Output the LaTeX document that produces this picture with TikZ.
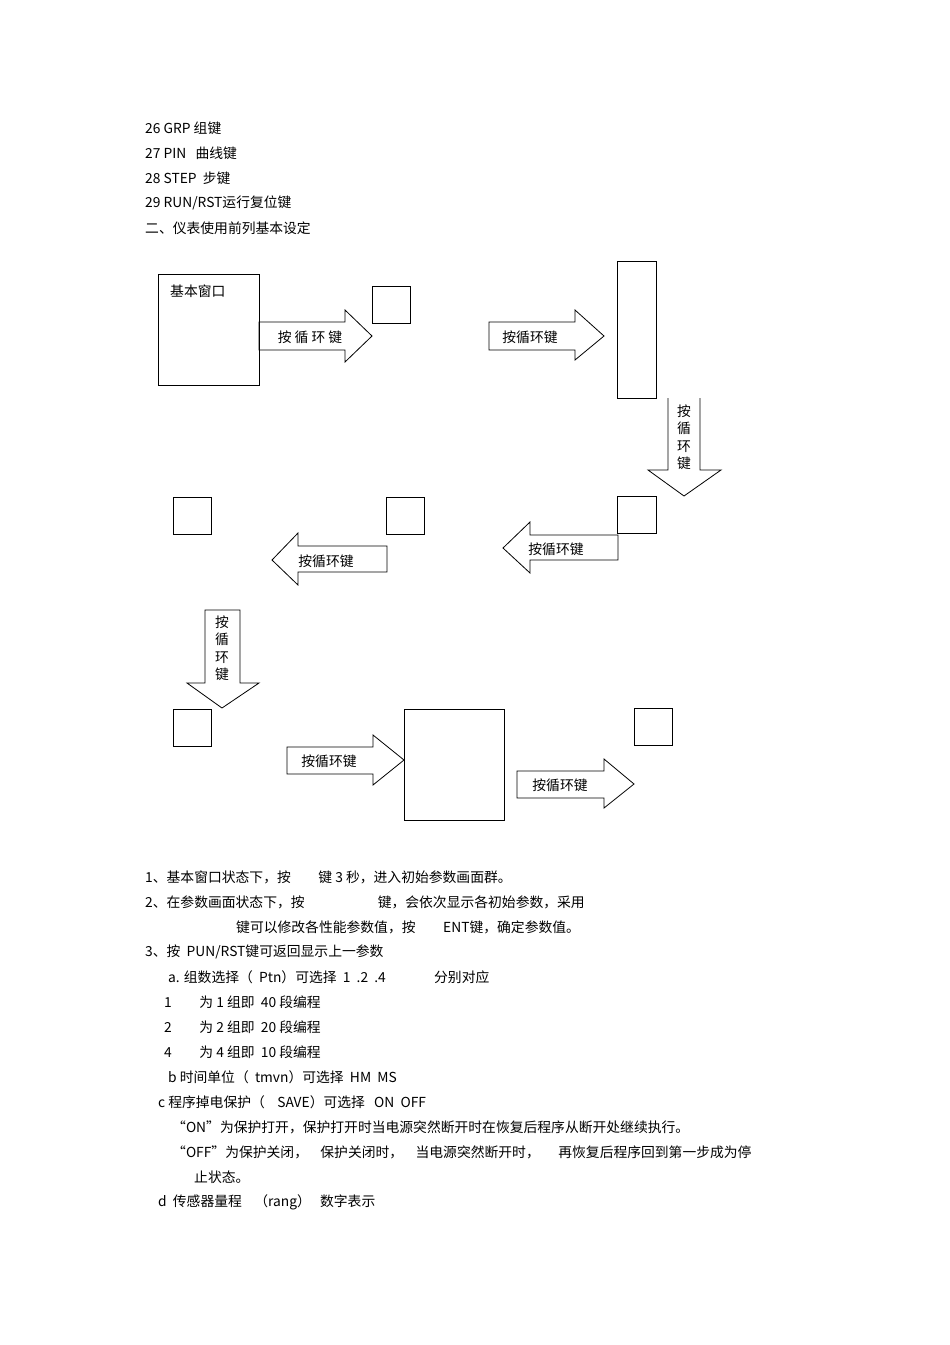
\documentclass[tikz,border=0pt]{standalone}
\usepackage{fontspec}
\setmainfont{Noto Sans CJK SC}
\begin{document}
\begin{tikzpicture}[x=1pt,y=-1pt,
 bx/.style={draw,line width=0.8pt},
 ar/.style={draw,line width=0.8pt},
 tx/.style={anchor=west,inner sep=0pt,font=\fontsize{13.8}{15}\selectfont},
 al/.style={inner sep=0pt,font=\fontsize{13.8}{15}\selectfont}]
\useasboundingbox (0,0) rectangle (950,1345);
\node[tx] at (145,128) {26 GRP 组键};
\node[tx] at (145,153) {27 PIN\ \ \ 曲线键};
\node[tx] at (145,178) {28 STEP\ \ 步键};
\node[tx] at (145,203) {29 RUN/RST运行复位键};
\node[tx] at (145,228) {二、仪表使用前列基本设定};
% boxes
\draw[bx] (158,274) rectangle (259,385);
\node[tx] (bw) at (170,291) {基本窗口};
\draw[bx] (372,286) rectangle (410,323);
\draw[bx] (617,261) rectangle (656,398);
\draw[bx] (617,496) rectangle (656,533);
\draw[bx] (173,497) rectangle (211,534);
\draw[bx] (386,497) rectangle (424,534);
\draw[bx] (173,709) rectangle (211,746);
\draw[bx] (404,709) rectangle (504,820);
\draw[bx] (634,708) rectangle (672,745);
% right arrows
\draw[ar] (259,322)--(345,322)--(345,310)--(372,336)--(345,362)--(345,350)--(259,350)--cycle;
\node[al] at (310,337) {按\ 循\ 环\ 键};
\draw[ar] (489,322)--(575,322)--(575,310)--(604,336)--(575,360)--(575,350)--(489,350)--cycle;
\node[al] at (530,337) {按循环键};
\draw[ar] (287,747)--(373,747)--(373,735)--(404,760)--(373,785)--(373,774)--(287,774)--cycle;
\node[al] at (329,761) {按循环键};
\draw[ar] (517,771)--(604,771)--(604,759)--(634,784)--(604,808)--(604,798)--(517,798)--cycle;
\node[al] at (560,785) {按循环键};
% left arrows
\draw[ar] (618,535)--(530,535)--(530,522)--(503,548)--(530,573)--(530,560)--(618,560)--cycle;
\node[al] at (556,549) {按循环键};
\draw[ar] (387,546)--(298,546)--(298,533)--(272,560)--(298,585)--(298,572)--(387,572)--cycle;
\node[al] at (326,561) {按循环键};
% down arrows
\draw[ar] (668,398)--(668,470)--(648,470)--(684,496)--(721,470)--(700,470)--(700,398);
\node[al,align=center,font=\fontsize{13.8}{17.5}\selectfont] at (684,437) {按\\循\\环\\键};
\draw[ar] (205,610)--(240,610)--(240,683)--(259,683)--(222,708)--(187,683)--(205,683)--cycle;
\node[al,align=center,font=\fontsize{13.8}{17.5}\selectfont] at (222,648) {按\\循\\环\\键};
% bottom text
\node[tx] at (145,877) {1、基本窗口状态下，按\hspace{2em}键 3 秒，进入初始参数画面群。};
\node[tx] at (145,902) {2、在参数画面状态下，按\hspace{5.3em}键，会依次显示各初始参数，采用};
\node[tx] at (236,927) {键可以修改各性能参数值，按\hspace{2em}ENT键，确定参数值。};
\node[tx] at (145,952) {3、按\ \ PUN/RST键可返回显示上一参数};
\node[tx] at (168,977) {a. 组数选择（\ \ Ptn）可选择\ \ 1\ \ .2\ \ .4\hspace{3.5em}分别对应};
\node[tx] at (164,1002) {1\hspace{2em}为 1 组即\ \ 40 段编程};
\node[tx] at (164,1027) {2\hspace{2em}为 2 组即\ \ 20 段编程};
\node[tx] at (164,1052) {4\hspace{2em}为 4 组即\ \ 10 段编程};
\node[tx] at (168,1077) {b 时间单位（\ \ tmvn）可选择\ \ HM\ \ MS};
\node[tx] at (158,1102) {c 程序掉电保护（\ \ \ \ SAVE）可选择\ \ \ ON\ \ OFF};
\node[tx] at (172,1127) {“ON”为保护打开，保护打开时当电源突然断开时在恢复后程序从断开处继续执行。};
\node[tx] at (172,1152) {“OFF”为保护关闭，\ \ \ \ 保护关闭时，\ \ \ \ 当电源突然断开时，\ \ \ \ \ \ 再恢复后程序回到第一步成为停};
\node[tx] at (194,1177) {止状态。};
\node[tx] at (158,1202) {d\ \ 传感器量程\ \ \ \ （rang）\ \ \ 数字表示};
\end{tikzpicture}
\end{document}
